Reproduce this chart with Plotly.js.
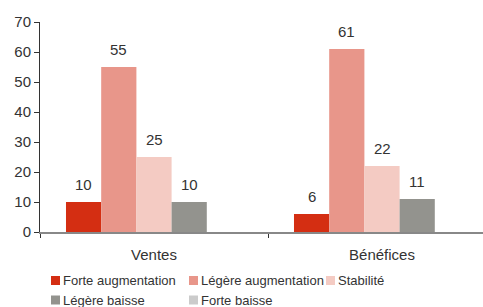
<!DOCTYPE html>
<html><head><meta charset="utf-8">
<script src="https://cdn.plot.ly/plotly-3.0.1.min.js"></script>
<style>html,body{margin:0;padding:0;background:#fff}#chart{width:483px;height:307px}</style>
</head><body><div id="chart"></div>
<script>
const categories = ['Ventes', 'Bénéfices'];
const seriesNames = ['Forte augmentation', 'Légère augmentation', 'Stabilité', 'Légère baisse', 'Forte baisse'];
const forteAugmentation = [10, 6];
const legereAugmentation = [55, 61];
const stabilite = [25, 22];
const legereBaisse = [10, 11];
const forteBaisse = [0, 0];
const yTicks = [0, 10, 20, 30, 40, 50, 60, 70];

const seriesValues = [forteAugmentation, legereAugmentation, stabilite, legereBaisse, forteBaisse];
const colors = ['#d42e12', '#e8968a', '#f4cbc3', '#93938e', '#cbcbcb'];
const bargap = 0.228;
const font = 'Liberation Sans, Arial, sans-serif';

// plot area in pixels
const M = {l: 40, r: 0, t: 22, b: 75};
const W = 483, H = 307;
const pw = W - M.l - M.r, ph = H - M.t - M.b;
const px = x => (x - M.l) / pw;
const py = y => (H - M.b - y) / ph;

const traces = seriesNames.map((n, i) => ({
  type: 'bar', name: n, x: categories, y: seriesValues[i],
  marker: {color: colors[i], line: {width: 0}}, hoverinfo: 'skip', showlegend: false
}));

const bw = (1 - bargap) / seriesNames.length;
const annotations = [];
seriesValues.forEach((vals, i) => {
  vals.forEach((v, j) => {
    if (v > 0) annotations.push({
      x: j + (i - (seriesNames.length - 1) / 2) * bw, y: v, xref: 'x', yref: 'y',
      text: String(v), showarrow: false, yanchor: 'bottom', yshift: 7,
      font: {family: font, size: 15, color: '#333'}
    });
  });
});

// custom legend (3 columns, 2 rows)
const legCols = [51, 189, 326];
const legRows = [280.5, 300];
const shapes = [];
seriesNames.forEach((n, i) => {
  const c = legCols[i % 3], r = legRows[Math.floor(i / 3)];
  shapes.push({type: 'rect', xref: 'paper', yref: 'paper',
    x0: px(c), x1: px(c + 9), y0: py(r + 4.5), y1: py(r - 4.5),
    fillcolor: colors[i], line: {width: 0}});
  annotations.push({xref: 'paper', yref: 'paper', x: px(c + 11), y: py(r),
    xanchor: 'left', yanchor: 'middle', borderpad: 0, text: n, showarrow: false,
    font: {family: font, size: 13, color: '#333'}});
});

const layout = {
  width: W, height: H,
  margin: M,
  paper_bgcolor: '#fff', plot_bgcolor: '#fff',
  barmode: 'group', bargap: bargap, bargroupgap: 0,
  font: {family: font, size: 14, color: '#333'},
  showlegend: false,
  xaxis: {
    type: 'category', range: [-0.5, 1.443], showgrid: false, zeroline: false,
    showline: true, linecolor: '#888', linewidth: 1.5,
    ticks: 'outside', tickson: 'boundaries', ticklen: 4, tickcolor: '#333',
    tickfont: {family: font, size: 15, color: '#333'}, ticklabelstandoff: 8
  },
  yaxis: {
    range: [0, 70], tickvals: yTicks, showgrid: false, zeroline: false,
    showline: true, linecolor: '#333', linewidth: 1,
    ticks: 'outside', ticklen: 5, tickcolor: '#333',
    tickfont: {family: font, size: 15, color: '#333'}
  },
  shapes: shapes,
  annotations: annotations
};

Plotly.newPlot('chart', traces, layout, {displayModeBar: false, staticPlot: true});
</script></body></html>
